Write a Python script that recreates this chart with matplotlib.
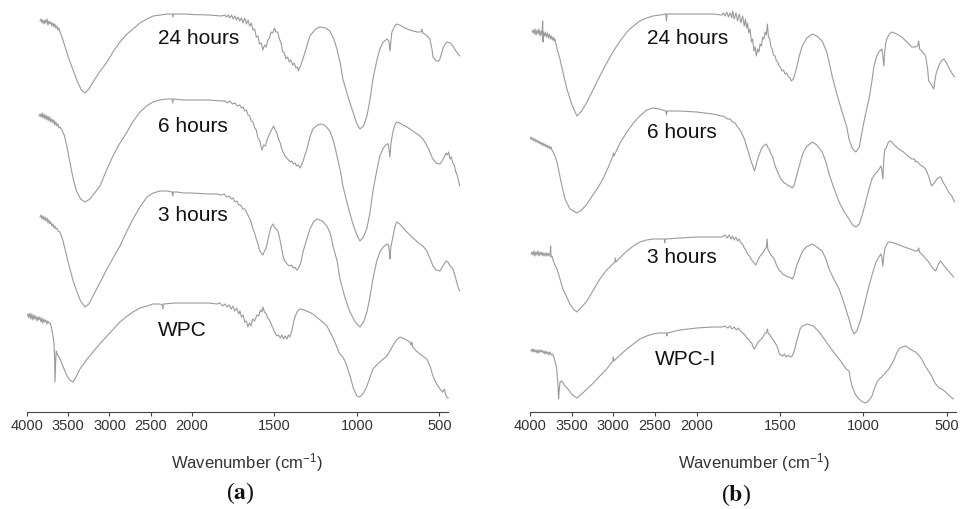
import numpy as np
import matplotlib
matplotlib.use("Agg")
import matplotlib.pyplot as plt

plt.rcParams['font.family'] = ['Liberation Sans', 'DejaVu Sans']
plt.rcParams['mathtext.fontset'] = 'custom'
plt.rcParams['mathtext.rm'] = 'Liberation Sans'
plt.rcParams['mathtext.it'] = 'Liberation Sans:italic'
plt.rcParams['mathtext.bf'] = 'Liberation Sans:bold'

# spectra: (wavenumber cm-1, depth below top of panel, px)
# (a) WPC series
a_24h = [(3842,22),(3830,20),(3818,24),(3806,21),(3794,25),(3782,21),(3770,24),(3758,20),(3746,26),(3734,22),(3722,25),(3710,23),(3698,27),(3686,24),(3674,28),(3662,25),(3650,29),(3638,27),(3626,31),(3614,29),(3600,33),(3585,36),(3560,42),(3530,50),(3500,58),(3455,68),(3420,76),(3382,84),(3340,91),(3297,94),(3250,90),(3200,83),(3120,73),(3030,63),(2950,52),(2873,43),(2800,36),(2715,30),(2630,24),(2545,20),(2470,17),(2388,16),(2300,15),(2240,15),(2232,18),(2225,15),(2100,15),(2000,15.5),(1900,16),(1820,17),
         (1800,16),(1790,18),(1780,16),(1770,19),(1760,16),(1750,20),(1740,17),(1730,21),(1720,18),(1710,22),(1700,19),(1690,24),(1680,19),(1670,25),(1660,21),(1650,27),(1640,24),(1630,31),(1620,30),(1610,38),(1600,37),(1590,45),(1580,44),(1570,51),(1560,46),(1550,48),(1540,41),(1530,39),(1520,33),(1510,34),(1500,29),(1490,33),(1480,33),(1470,40),(1460,44),(1450,53),(1440,54),(1430,60),(1420,58),(1410,63),(1400,61),(1390,66),(1380,64),(1370,69),(1360,68),(1355,72),
         (1340,66),(1327,60),(1300,45),(1285,37),(1250,30),(1224,28),(1190,29),(1164,32),(1140,40),(1121,50),(1100,65),(1085,80),(1050,100),(1024,113),(1000,125),(982,130),(960,127),(939,117),(920,100),(903,80),(880,62),(861,50),(840,43),(818,40),(806,42),(800,52),(795,44),(788,33),(770,27),(758,25),(740,26),(721,28),(680,31),(636,33),(612,33),(606,30),(600,34),(580,36),(558,40),(545,50),(539,58),(520,62),(505,62),(497,60),(475,48),(455,43),(435,44),(418,47),(400,52),(376,57)]

a_6h = [(3855,117),(3842,115),(3830,118),(3818,114),(3806,119),(3794,115),(3782,120),(3770,116),(3758,121),(3746,117),(3734,122),(3722,118),(3710,123),(3698,120),(3686,124),(3674,121),(3662,126),(3650,123),(3638,127),(3626,125),(3612,129),(3600,128),(3576,131),(3545,137),(3515,148),(3480,163),(3440,180),(3400,192),(3350,200),(3297,203),(3236,200),(3180,194),(3115,187),(3040,172),(2958,157),(2880,145),(2788,133),(2710,122),(2630,113),(2550,107),(2473,103),(2390,101),(2303,100),(2240,100),(2232,104),(2225,100),(2100,101),(2000,101),(1900,101),(1820,102),
        (1800,102),(1785,104),(1770,102),(1755,105),(1740,104),(1725,107),(1710,106),(1700,109),(1690,108),(1680,112),(1670,111),(1660,116),(1650,117),(1640,122),(1630,123),(1620,129),(1610,131),(1600,139),(1590,141),(1580,148),(1575,151),(1565,146),(1555,147),(1545,141),(1535,137),(1525,133),(1515,130),(1505,127),(1495,131),(1485,134),(1475,140),(1465,144),(1455,150),(1445,154),(1435,157),(1425,159),(1415,161),(1405,163),(1395,162),(1385,165),(1375,164),(1365,167),(1355,166),(1345,169),
        (1330,164),(1303,150),(1285,138),(1267,130),(1240,126),(1212,125),(1190,127),(1164,132),(1140,143),(1121,157),(1100,172),(1085,187),(1050,210),(1024,225),(1000,236),(982,242),(960,238),(939,229),(920,213),(903,192),(880,172),(861,157),(840,149),(818,145),(810,145),(804,152),(800,158),(794,145),(782,133),(770,126),(758,123),(740,124),(720,126),(697,128),(660,132),(618,137),(600,140),(588,143),(565,150),(545,158),(539,160),(520,164),(497,165),(480,161),(470,158),(460,154),(452,156),(444,153),(436,160),(428,158),(418,164),(410,166),(400,173),(392,176),(384,182),(376,187)]

a_3h = [(3842,218),(3830,216),(3818,220),(3806,217),(3794,221),(3782,218),(3770,222),(3758,219),(3746,224),(3734,221),(3722,225),(3710,223),(3698,227),(3686,225),(3674,229),(3662,227),(3650,230),(3638,229),(3624,232),(3600,233),(3570,240),(3539,250),(3510,260),(3479,270),(3440,282),(3394,293),(3350,302),(3297,308),(3250,305),(3200,297),(3120,284),(3030,270),(2950,258),(2873,247),(2800,234),(2715,220),(2630,208),(2545,198),(2470,194),(2388,192),(2300,192),(2240,193),(2232,197),(2225,193),(2182,193),(2100,194),(2000,194),(1900,195),(1848,195),
        (1820,196),(1805,195),(1790,198),(1775,197),(1760,200),(1752,199),(1740,203),(1728,202),(1716,206),(1704,206),(1692,210),(1680,210),(1667,214),(1655,218),(1645,221),(1637,226),(1630,230),(1620,234),(1610,240),(1600,245),(1590,251),(1580,254),(1570,256),(1560,252),(1550,249),(1539,241),(1530,234),(1520,228),(1509,225),(1500,228),(1490,230),(1479,232),(1470,238),(1460,246),(1448,257),(1438,262),(1428,264),(1418,266),(1406,267),(1396,266),(1386,269),(1376,268),(1366,271),(1358,270),
        (1340,264),(1327,253),(1300,238),(1285,230),(1260,222),(1242,220),(1210,222),(1182,227),(1160,235),(1145,247),(1120,262),(1103,280),(1070,300),(1042,313),(1010,323),(982,328),(960,323),(939,313),(920,297),(903,280),(880,262),(861,253),(840,248),(818,245),(808,246),(802,255),(800,260),(794,248),(788,243),(770,228),(758,223),(740,225),(720,229),(697,233),(660,239),(618,245),(600,247),(576,252),(555,260),(539,267),(520,271),(497,272),(475,266),(460,262),(448,263),(435,267),(418,270),(405,277),(395,283),(385,289),(376,292)]

a_wpc = [(4000,317),(3988,315),(3976,319),(3964,314),(3952,320),(3940,315),(3928,321),(3916,316),(3904,320),(3892,317),(3880,322),(3868,318),(3856,321),(3844,318),(3832,323),(3820,319),(3808,324),(3796,320),(3784,323),(3772,321),(3760,325),(3748,322),(3736,324),(3721,324),(3705,328),(3685,337),(3672,345),(3665,360),(3661,383),(3656,372),(3650,358),(3645,352),(3636,355),(3620,357),(3600,360),(3560,368),(3515,377),(3480,381),(3442,383),(3400,377),(3358,370),(3280,361),(3200,353),(3120,345),(3030,337),(2950,330),(2873,323),(2800,318),(2715,313),(2630,309),(2545,307),(2470,305),(2388,305),(2360,306),(2352,310),(2345,305),(2200,304),(2000,304),(1900,304),(1848,305),
         (1830,304),(1815,307),(1800,305),(1788,308),(1775,306),(1762,310),(1752,307),(1740,312),(1728,309),(1716,315),(1709,312),(1700,318),(1690,316),(1680,323),(1670,322),(1661,328),(1652,324),(1642,327),(1632,320),(1620,322),(1606,316),(1595,317),(1585,311),(1575,313),(1570,308),(1560,313),(1550,315),(1540,319),(1527,322),(1515,327),(1505,331),(1495,334),(1485,337),(1475,336),(1465,339),(1455,336),(1445,340),(1435,337),(1424,340),(1415,336),(1406,338),
         (1395,332),(1385,324),(1376,318),(1360,312),(1345,310),(1320,311),(1290,313),(1267,315),(1230,320),(1200,324),(1182,327),(1150,337),(1121,348),(1110,353),(1103,355),(1085,358),(1070,363),(1061,367),(1040,378),(1020,390),(1000,397),(982,398),(960,394),(939,387),(920,378),(903,370),(880,366),(861,363),(840,360),(818,357),(800,352),(780,346),(760,341),(739,338),(710,340),(690,342),(679,343),(672,346),(666,343),(661,348),(640,352),(610,356),(576,360),(555,368),(539,377),(520,384),(497,390),(480,393),(470,390),(462,396),(455,398),(447,399)]

# (b) WPC-I series
b_24h = [(3976,33),(3964,31),(3952,35),(3940,30),(3928,36),(3916,31),(3904,35),(3892,30),(3880,37),(3868,32),(3856,36),(3848,22),(3844,43),(3840,33),(3828,37),(3816,33),(3804,38),(3792,34),(3780,39),(3768,35),(3756,40),(3744,37),(3732,41),(3720,38),(3710,42),(3701,40),(3675,50),(3641,60),(3600,75),(3557,90),(3500,105),(3437,117),(3380,112),(3317,103),(3240,90),(3162,77),(3080,64),(3006,53),(2920,42),(2838,33),(2760,27),(2683,22),(2600,19),(2527,17),(2440,16),(2370,15),(2363,22),(2356,15),(2200,15),(2000,15),(1904,15),(1850,16),
         (1840,14),(1830,17),(1820,13),(1810,18),(1800,14),(1790,19),(1785,12),(1775,20),(1765,14),(1755,22),(1745,15),(1735,24),(1725,17),(1715,27),(1708,20),(1701,29),(1695,24),(1688,34),(1680,30),(1672,43),(1665,40),(1657,52),(1650,48),(1642,57),(1635,50),(1627,53),(1620,45),(1612,47),(1605,38),(1597,40),(1590,33),(1583,36),(1576,25),(1570,38),(1562,40),(1555,48),(1547,50),(1540,56),(1530,57),(1522,62),(1514,63),(1506,67),(1498,68),(1490,72),(1480,71),(1470,75),(1460,74),(1450,78),(1440,79),(1433,82),
         (1420,80),(1403,70),(1385,57),(1367,47),(1340,39),(1307,35),(1280,37),(1248,42),(1220,53),(1188,77),(1160,95),(1128,113),(1100,128),(1087,140),(1065,150),(1045,153),(1025,148),(1009,133),(990,117),(967,100),(950,83),(937,67),(920,57),(907,53),(895,51),(890,50),(884,56),(878,67),(872,52),(866,44),(860,40),(845,35),(830,33),(800,35),(770,38),(740,43),(710,48),(690,48),(675,47),(669,42),(663,50),(650,52),(627,57),(615,70),(609,82),(595,85),(579,90),(565,75),(549,67),(534,62),(519,60),(505,63),(490,68),(470,74),(454,78)]

b_6h = [(4000,140),(3988,138),(3976,141),(3964,139),(3952,142),(3940,140),(3928,143),(3916,141),(3904,144),(3892,142),(3880,145),(3868,143),(3856,146),(3844,144),(3832,147),(3820,145),(3808,148),(3796,146),(3784,149),(3772,147),(3760,150),(3748,148),(3737,151),(3710,155),(3677,163),(3650,174),(3617,187),(3580,200),(3520,210),(3437,214),(3380,211),(3317,205),(3246,196),(3180,188),(3126,180),(3060,168),(3006,157),(3000,154),(2994,157),(2920,144),(2838,133),(2760,124),(2683,117),(2600,111),(2527,109),(2450,110),(2370,112),(2363,116),(2356,112),(2204,112),(2000,113),(1904,115),(1850,117),
        (1830,118),(1815,120),(1800,120),(1785,123),(1770,124),(1755,128),(1740,131),(1725,136),(1712,141),(1700,148),(1690,153),(1680,159),(1670,164),(1660,169),(1654,172),(1645,167),(1635,160),(1624,155),(1612,150),(1600,147),(1590,146),(1582,145),(1575,148),(1565,150),(1555,155),(1546,157),(1535,164),(1525,169),(1515,173),(1504,177),(1495,180),(1485,182),(1475,184),(1463,185),(1450,187),(1440,187),(1427,189),(1415,186),
        (1400,176),(1385,167),(1365,155),(1343,148),(1307,143),(1280,146),(1248,153),(1225,163),(1206,175),(1180,188),(1146,203),(1115,213),(1087,220),(1065,226),(1045,228),(1025,225),(1009,217),(990,205),(967,190),(949,180),(935,176),(919,173),(905,170),(896,167),(890,170),(884,180),(878,160),(872,150),(866,150),(850,143),(836,142),(815,146),(788,150),(760,153),(740,156),(710,160),(695,160),(688,163),(680,162),(660,166),(640,168),(627,170),(610,177),(591,187),(575,184),(560,180),(545,178),(537,178),(520,184),(505,188),(490,193),(470,197),(454,203)]

b_3h = [(3988,255),(3976,253),(3964,256),(3952,252),(3940,257),(3928,253),(3916,256),(3904,252),(3892,257),(3880,253),(3868,256),(3856,253),(3844,257),(3832,254),(3820,257),(3808,254),(3796,257),(3784,254),(3772,257),(3760,255),(3752,247),(3748,258),(3737,257),(3720,262),(3700,266),(3677,270),(3640,280),(3605,290),(3560,298),(3521,305),(3480,310),(3437,313),(3380,308),(3317,302),(3240,291),(3162,280),(3080,271),(2982,263),(2976,259),(2970,263),(2900,257),(2838,252),(2760,247),(2683,243),(2600,241),(2527,240),(2450,240),(2390,240),(2383,244),(2376,240),(2200,239),(2000,238),(1904,238),(1850,238),
        (1830,236),(1818,239),(1806,236),(1794,240),(1785,237),(1775,241),(1765,238),(1755,242),(1745,240),(1735,244),(1725,245),(1715,249),(1705,251),(1695,255),(1684,257),(1675,260),(1665,262),(1655,264),(1647,266),(1640,264),(1630,260),(1620,257),(1610,255),(1600,253),(1590,250),(1582,248),(1578,240),(1574,250),(1565,253),(1555,256),(1545,258),(1534,260),(1522,266),(1510,270),(1500,272),(1493,273),(1485,275),(1475,276),(1465,277),(1455,278),(1445,278),(1435,279),(1427,280),(1415,276),
        (1400,266),(1385,260),(1365,252),(1343,248),(1307,245),(1280,248),(1248,252),(1225,260),(1206,270),(1175,281),(1146,290),(1115,305),(1087,320),(1070,330),(1057,335),(1040,332),(1015,320),(990,303),(967,287),(945,274),(925,263),(910,259),(896,255),(890,258),(884,267),(878,257),(872,250),(866,247),(850,243),(836,243),(800,245),(770,247),(720,250),(690,252),(675,252),(669,249),(663,253),(640,257),(625,260),(609,263),(590,268),(575,271),(567,272),(550,265),(537,262),(520,266),(501,270),(480,274),(460,278)]

b_wpci = [(3988,352),(3976,350),(3964,353),(3952,350),(3940,353),(3928,351),(3916,354),(3904,351),(3892,354),(3880,351),(3868,353),(3856,351),(3844,354),(3832,352),(3820,355),(3808,352),(3796,355),(3784,353),(3772,356),(3760,353),(3745,356),(3730,355),(3715,358),(3701,362),(3685,367),(3677,373),(3665,385),(3657,400),(3650,392),(3640,383),(3617,382),(3590,386),(3545,390),(3490,396),(3437,399),(3380,395),(3317,390),(3240,384),(3162,377),(3080,370),(3006,362),(3000,358),(2994,362),(2920,356),(2838,350),(2760,345),(2683,340),(2600,337),(2527,335),(2450,334),(2365,334),(2359,337),(2352,334),(2204,331),(2000,329),(1904,328),(1850,328),
          (1830,327),(1815,329),(1800,327),(1788,330),(1775,328),(1762,331),(1750,329),(1738,332),(1725,334),(1712,336),(1700,339),(1690,340),(1680,343),(1670,344),(1662,348),(1654,350),(1645,347),(1635,344),(1625,342),(1612,340),(1600,337),(1590,334),(1582,334),(1576,330),(1570,335),(1560,336),(1550,339),(1540,341),(1534,343),(1522,346),(1512,350),(1504,355),(1494,356),(1484,357),(1474,355),(1463,358),(1452,356),(1440,358),(1427,357),(1415,352),
          (1397,340),(1380,330),(1367,327),(1337,325),(1300,327),(1266,333),(1235,340),(1206,347),(1175,354),(1146,360),(1116,367),(1104,370),(1087,372),(1078,380),(1069,387),(1050,395),(1027,400),(1005,403),(985,404),(965,401),(949,397),(935,390),(919,383),(905,380),(890,378),(870,374),(848,370),(820,362),(800,354),(788,350),(770,348),(746,347),(720,350),(700,352),(687,353),(675,355),(651,360),(630,367),(610,372),(591,377),(575,383),(567,385),(545,389),(530,390),(507,393),(490,396),(475,398),(460,400)]

tick_vals = [4000, 3500, 3000, 2500, 2000, 1500, 1000, 500]
labels_a = ["24 hours", "6 hours", "3 hours", "WPC"]
labels_b = ["24 hours", "6 hours", "3 hours", "WPC-I"]
label_pos_a = [(2412, 38), (2412, 126), (2412, 216), (2412, 331)]
label_pos_b = [(2599, 38), (2599, 133), (2599, 258), (2503, 360)]


# axis is compressed 2x above 2000 cm-1
def fwd(w):
    w = np.asarray(w, dtype=float)
    return np.where(w >= 2000, 2000 + (w - 2000) / 2, w)


def inv(u):
    u = np.asarray(u, dtype=float)
    return np.where(u >= 2000, 2000 + (u - 2000) * 2, u)


W, H = 962, 510
fig = plt.figure(figsize=(W / 100, H / 100), dpi=100)

panels = [
    (27, 460, 375, 448, [a_24h, a_6h, a_3h, a_wpc], labels_a, label_pos_a),
    (530, 956, 445, 445, [b_24h, b_6h, b_3h, b_wpci], labels_b, label_pos_b),
]

for x0, x1, wmin, spine_end, curves, labels, lpos in panels:
    ax = fig.add_axes([x0 / W, (H - 413) / H, (x1 - x0) / W, 413 / H])
    ax.set_xscale('function', functions=(fwd, inv))
    for c in curves:
        arr = np.array(c, dtype=float)
        ax.plot(arr[:, 0], arr[:, 1], color='#9a9a9a', lw=0.8)
    for t, (xw, yd) in zip(labels, lpos):
        ax.text(xw, yd, t, fontsize=15, color='#111111', ha='left', va='center')
    ax.set_xlim(4000, wmin)
    ax.set_ylim(413, 0)
    ax.set_xticks(tick_vals)
    ax.set_xticklabels([str(v) for v in tick_vals])
    ax.xaxis.set_minor_locator(matplotlib.ticker.NullLocator())
    ax.tick_params(axis='x', direction='out', length=3, width=0.8, color='#444444',
                   labelsize=10.5, labelcolor='#333333', pad=1.5)
    ax.set_yticks([])
    for s in ['left', 'right', 'top']:
        ax.spines[s].set_visible(False)
    ax.spines['bottom'].set_bounds(4000, spine_end)
    ax.spines['bottom'].set_color('#444444')
    ax.spines['bottom'].set_linewidth(0.8)
    ax.patch.set_alpha(0)

for xc in (247, 754):
    fig.text(xc / W, 1 - 463 / H, r'Wavenumber (cm$^{-1}$)', fontsize=12,
             color='#333333', ha='center', va='center')

for xc, yc, letter in ((240, 493, 'a'), (736, 495, 'b')):
    fig.text(xc / W, 1 - yc / H, r'($\mathbf{%s}$)' % letter, fontsize=17,
             family='Liberation Serif', math_fontfamily='stix',
             color='#111111', ha='center', va='center')

fig.savefig('out.png', dpi=100)
